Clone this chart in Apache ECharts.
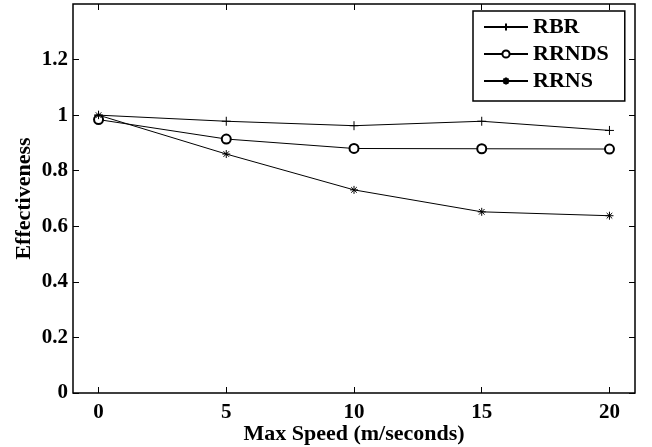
<!DOCTYPE html>
<html>
<head>
<meta charset="utf-8">
<script src="https://cdn.jsdelivr.net/npm/echarts@6/dist/echarts.min.js"></script>
<style>html,body{margin:0;padding:0;background:#fff}#c{width:652px;height:447px}</style>
</head>
<body>
<div id="c"></div>
<script>
const speeds = [0, 5, 10, 15, 20];
const rbr = [1.0, 0.978, 0.962, 0.978, 0.945];
const rrnds = [0.984, 0.914, 0.880, 0.879, 0.878];
const rrns = [1.0, 0.860, 0.731, 0.652, 0.638];
const xTicks = [0, 5, 10, 15, 20];
const yTicks = [0, 0.2, 0.4, 0.6, 0.8, 1, 1.2];
const seriesNames = ['RBR', 'RRNDS', 'RRNS'];

const FONT = 'Liberation Serif';
const plusPath = 'path://M0,-1L0,1M-1,0L1,0';
const starPath = 'path://M0,-1L0,1M-1,0L1,0M-0.7,-0.7L0.7,0.7M-0.7,0.7L0.7,-0.7';

function pts(ys) { return speeds.map((x, i) => [x, ys[i]]); }

const chart = echarts.init(document.getElementById('c'), null, {renderer: 'canvas'});
const tickTxt = {color: '#000', fontFamily: FONT, fontWeight: 'bold', fontSize: 21};
const nameTxt = {color: '#000', fontFamily: FONT, fontWeight: 'bold', fontSize: 22};
const mkSeries = (name, ys, symbol, size) => ({
  name, type: 'line', data: pts(ys), symbol, symbolSize: size,
  lineStyle: {color: '#000', width: 1},
  itemStyle: {color: symbol === 'emptyCircle' ? '#000' : 'rgba(0,0,0,0)', borderColor: '#000', borderWidth: 1},
  emphasis: {disabled: true}, animation: false, showAllSymbol: true
});
const tickStyle = {show: true, inside: true, length: 6, lineStyle: {color: '#000'}};

chart.setOption({
  animation: false,
  grid: {left: 73, right: 17, top: 4, bottom: 54, show: true, borderColor: '#000', borderWidth: 1.5,
         containLabel: false, outerBoundsMode: 'none'},
  legend: {
    data: seriesNames, orient: 'vertical', left: 473, top: 11,
    itemWidth: 44, itemHeight: 9, itemGap: 5,
    padding: [5, 16, 9, 10],
    borderColor: '#000', borderWidth: 1.5, backgroundColor: '#fff',
    textStyle: {color: '#000', fontFamily: FONT, fontWeight: 'bold', fontSize: 22}
  },
  xAxis: [{
    type: 'value', min: -1, max: 21,
    name: 'Max Speed (m/seconds)', nameLocation: 'middle', nameGap: 30, nameMoveOverlap: false,
    nameTextStyle: nameTxt,
    axisLine: {show: false, onZero: false},
    axisTick: {...tickStyle, customValues: xTicks},
    axisLabel: {customValues: xTicks, margin: 9, ...tickTxt},
    splitLine: {show: false}
  }, {
    type: 'value', min: -1, max: 21, position: 'top',
    axisLine: {show: false, onZero: false},
    axisTick: {...tickStyle, customValues: xTicks},
    axisLabel: {show: false}, splitLine: {show: false}
  }],
  yAxis: [{
    type: 'value', min: 0, max: 1.4,
    name: 'Effectiveness', nameLocation: 'middle', nameGap: 38, nameMoveOverlap: false,
    nameTextStyle: nameTxt,
    axisLine: {show: false, onZero: false},
    axisTick: {...tickStyle, customValues: yTicks},
    axisLabel: {customValues: yTicks, margin: 5, ...tickTxt},
    splitLine: {show: false}
  }, {
    type: 'value', min: 0, max: 1.4, position: 'right',
    axisLine: {show: false, onZero: false},
    axisTick: {...tickStyle, customValues: yTicks},
    axisLabel: {show: false}, splitLine: {show: false}
  }],
  series: [
    mkSeries('RBR', rbr, plusPath, 9),
    mkSeries('RRNDS', rrnds, 'emptyCircle', 9),
    mkSeries('RRNS', rrns, starPath, 8)
  ]
});
</script>
</body>
</html>
